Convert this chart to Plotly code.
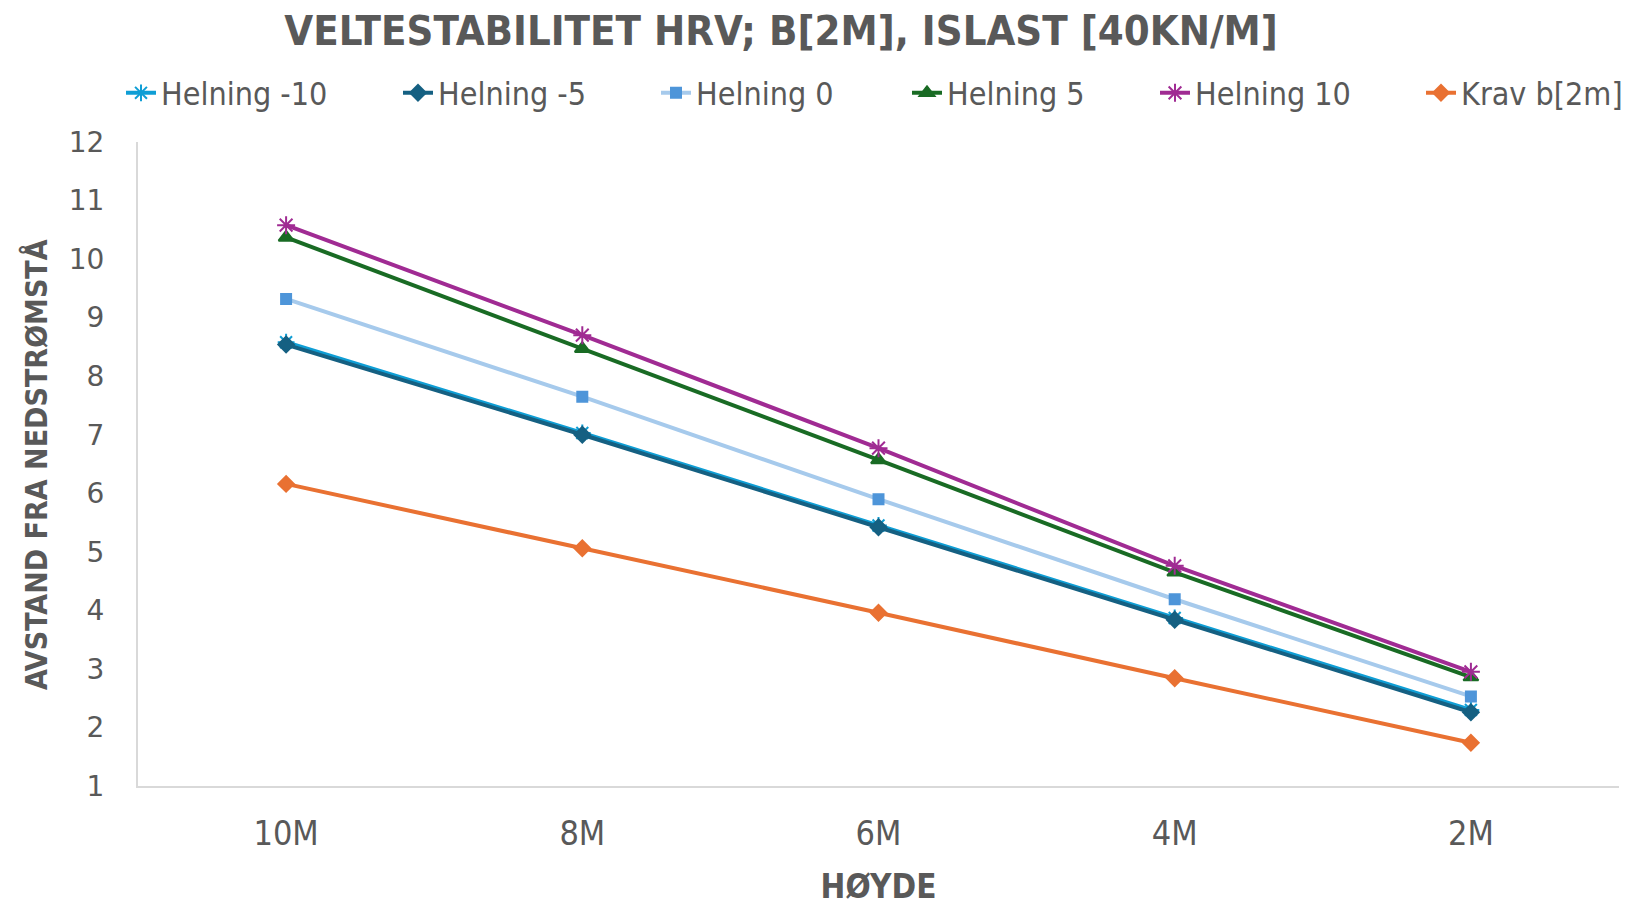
import plotly.graph_objects as go

categories = ["10M", "8M", "6M", "4M", "2M"]
series_names = ["Helning -10", "Helning -5", "Helning 0", "Helning 5", "Helning 10", "Krav b[2m]"]
helning_m10 = [8.58, 7.03, 5.45, 3.87, 2.30]
helning_m5 = [8.54, 7.00, 5.42, 3.84, 2.26]
helning_0 = [9.32, 7.65, 5.90, 4.19, 2.53]
helning_5 = [10.37, 8.47, 6.57, 4.65, 2.86]
helning_10 = [10.58, 8.70, 6.77, 4.76, 2.95]
krav = [6.16, 5.06, 3.96, 2.84, 1.74]
y_ticks = list(range(1, 13))

values = [helning_m10, helning_m5, helning_0, helning_5, helning_10, krav]
line_colors = ["#0F9ED5", "#156082", "#A6CAEC", "#196B24", "#A02B93", "#E97132"]
marker_colors = ["#0F9ED5", "#156082", "#4E95D9", "#196B24", "#A02B93", "#E97132"]
symbols = ["asterisk-open", "diamond", "square", "triangle-up", "asterisk-open", "diamond"]
sizes = [14, 12, 10, 13, 15, 12]
# legend text start positions (px, container)
legend_text_x = [161, 438, 696, 947, 1195, 1461]

NARROW = "Liberation Sans Narrow, DejaVu Sans Condensed, Arial Narrow, sans-serif"
GRAY = "#595959"
W, H = 1627, 906

fig = go.Figure()
legend_layouts = {}
for i, (name, vals, lc, mc, sym, sz) in enumerate(zip(series_names, values, line_colors, marker_colors, symbols, sizes)):
    lname = "legend" if i == 0 else f"legend{i+1}"
    fig.add_trace(go.Scatter(
        x=categories, y=vals, name=name, mode="lines+markers",
        line=dict(color=lc, width=4),
        marker=dict(symbol=sym, size=sz, color=mc, line=dict(color=mc, width=2)),
        legend=lname,
    ))
    legend_layouts[lname] = dict(
        x=(legend_text_x[i] - 40) / W, xref="container", xanchor="left",
        y=1 - 93 / H, yref="container", yanchor="middle",
        font=dict(family=NARROW, size=32, color=GRAY),
        bgcolor="rgba(0,0,0,0)", itemwidth=30,
    )

fig.update_layout(
    width=W, height=H,
    margin=dict(l=138, r=8, t=142, b=120, autoexpand=False),
    paper_bgcolor="white", plot_bgcolor="white",
    title=dict(text="<b>VELTESTABILITET HRV; B[2M], ISLAST [40KN/M]</b>",
               x=781 / W, xanchor="center", y=0.966, yanchor="middle",
               font=dict(family=NARROW, size=41.5, color=GRAY)),
    showlegend=True,
    **legend_layouts,
)
fig.add_annotation(
    text="<b>AVSTAND FRA NEDSTRØMSTÅ</b>", textangle=-90,
    xref="paper", yref="paper", x=-(138 - 36) / (W - 146), y=(H - 120 - 465) / (H - 262),
    xanchor="center", yanchor="middle", showarrow=False,
    font=dict(family=NARROW, size=30, color=GRAY),
)
fig.update_xaxes(
    type="category", range=[-0.5, 4.5],
    showline=True, linecolor="#D9D9D9", linewidth=2, showgrid=False, ticks="",
    tickfont=dict(family=NARROW, size=34, color=GRAY),
    ticklabelstandoff=16,
    title=dict(text="<b>HØYDE</b>", font=dict(family=NARROW, size=33, color=GRAY), standoff=23),
)
fig.update_yaxes(
    range=[1, 12], tickvals=y_ticks, showgrid=False, zeroline=False,
    showline=True, linecolor="#D9D9D9", linewidth=2, ticks="",
    tickfont=dict(family="DejaVu Sans, sans-serif", size=28, color=GRAY),
    ticklabelstandoff=26,
)

fig.write_html("out.html")
